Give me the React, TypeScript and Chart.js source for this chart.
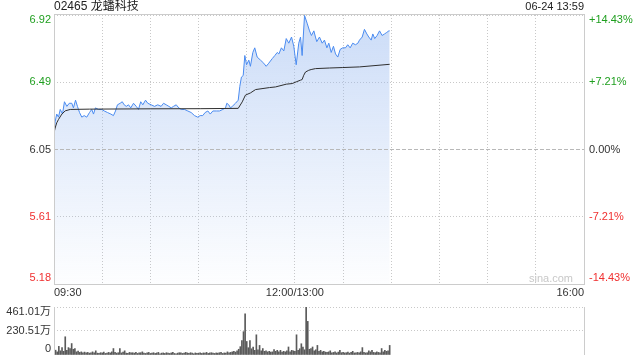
import React, { useEffect, useRef } from "react";
import { Chart, registerables } from "chart.js";

Chart.register(...registerables);

const TITLE = "02465 龙蟠科技";
const DATE_LABEL = "06-24 13:59";
const WATERMARK = "sina.com";
const PREV_CLOSE = 6.05;
const RANGE_PCT = 14.43;
const PCT_TICKS = [14.43, 7.21, 0, -7.21, -14.43];
const PRICE_LABELS = ["6.92", "6.49", "6.05", "5.61", "5.18"];
const PCT_LABELS = ["+14.43%", "+7.21%", "0.00%", "-7.21%", "-14.43%"];
const TIME_LABELS = ["09:30", "12:00/13:00", "16:00"];
const TIME_LABEL_MINUTES = [0, 150, 330];
const SESSION_MINUTES = 330;
const GRID_STEP_MINUTES = 30;

// minutes since 09:30 (lunch break removed) and last price
const priceMinutes = [
  0, 0.7, 1.7, 2.8, 3.9, 5.3, 6.5, 8.0, 9.5, 11.1, 12.1, 13.4, 14.6, 15.9, 17.3, 18.8, 20.4, 22.1, 23.5, 24.6,
  25.8, 27.7, 29.8, 31.3, 33.3, 35.4, 37.0, 38.3, 39.5, 41.2, 42.5, 43.7, 45.0, 46.4, 47.8, 49.5, 51.2, 52.6, 54.0, 55.3,
  57.0, 58.4, 60.5, 62.6, 64.6, 66.7, 68.2, 69.9, 71.5, 73.0, 74.4, 76.1, 77.7, 79.2, 81.3, 83.3, 85.4, 87.5, 89.5, 91.0,
  92.6, 94.1, 95.8, 97.3, 98.9, 101.0, 103.0, 105.1, 106.8, 107.6, 108.8, 109.9, 111.0, 113.0, 114.7, 115.7, 116.7, 117.8, 118.8, 119.9,
  121.3, 122.3, 123.8, 125.0, 126.5, 128.6, 130.6, 132.1, 133.7, 135.9, 137.5, 139.0, 140.0, 141.6, 143.1, 144.6, 146.2, 147.9, 149.3, 150.8,
  152.4, 153.5, 154.5, 156.0, 157.6, 159.1, 160.3, 161.8, 162.8, 163.6, 165.3, 167.0, 168.4, 169.9, 171.1, 172.6, 174.0, 175.3, 176.7, 178.2,
  179.8, 181.5, 182.9, 184.4, 186.0, 187.7, 189.2, 190.2, 191.9, 193.3, 194.8, 196.0, 197.5, 198.5, 199.7, 201.2, 202.7, 204.3, 205.8, 207.2,
  208.5, 209.0,
];
const priceValues = [
  6.16, 6.23, 6.28, 6.26, 6.31, 6.28, 6.36, 6.33, 6.35, 6.35, 6.32, 6.37, 6.33, 6.29, 6.26, 6.27, 6.26, 6.29, 6.31, 6.28,
  6.32, 6.31, 6.31, 6.30, 6.29, 6.28, 6.27, 6.30, 6.34, 6.35, 6.36, 6.34, 6.33, 6.34, 6.32, 6.35, 6.33, 6.31, 6.36, 6.34,
  6.37, 6.35, 6.34, 6.33, 6.34, 6.33, 6.35, 6.34, 6.33, 6.32, 6.33, 6.34, 6.32, 6.31, 6.31, 6.30, 6.29, 6.27, 6.26, 6.27,
  6.27, 6.29, 6.30, 6.28, 6.30, 6.30, 6.30, 6.31, 6.32, 6.35, 6.34, 6.32, 6.33, 6.35, 6.37, 6.46, 6.52, 6.53, 6.66, 6.60,
  6.63, 6.59, 6.68, 6.71, 6.65, 6.63, 6.61, 6.59, 6.61, 6.64, 6.66, 6.68, 6.67, 6.71, 6.69, 6.77, 6.74, 6.78, 6.72, 6.60,
  6.74, 6.78, 6.66, 6.92, 6.87, 6.82, 6.79, 6.82, 6.78, 6.75, 6.78, 6.74, 6.76, 6.71, 6.74, 6.68, 6.72, 6.67, 6.65, 6.70,
  6.71, 6.71, 6.73, 6.71, 6.74, 6.73, 6.74, 6.76, 6.78, 6.83, 6.80, 6.78, 6.76, 6.80, 6.77, 6.79, 6.82, 6.79, 6.80, 6.81,
  6.82, 6.82,
];

// average price line
const avgMinutes = [
  0, 0.7, 1.7, 2.8, 4.9, 7.0, 10.1, 22, 60, 91, 114.7, 117.2, 119.2, 122.3, 125.5, 134.2, 137.9, 144.6, 148.3, 150.8,
  153.5, 154.5, 155.5, 156.6, 158.6, 160.1, 162.8, 171.5, 179.8, 190.2, 209,
];
const avgValues = [
  6.157, 6.189, 6.223, 6.245, 6.28, 6.301, 6.31, 6.312, 6.314, 6.315, 6.317, 6.359, 6.403, 6.417, 6.439, 6.452, 6.456, 6.474, 6.478, 6.489,
  6.5, 6.504, 6.532, 6.553, 6.564, 6.569, 6.575, 6.579, 6.582, 6.586, 6.603,
];

// volume per minute (万), index = minute since 09:30
const volumeValues = [
  62, 46, 30, 83, 40, 71, 35, 175, 46, 71,
  62, 110, 55, 62, 30, 38, 25, 30, 22, 28,
  20, 25, 18, 22, 30, 20, 40, 18, 15, 22,
  20, 28, 15, 18, 25, 20, 30, 62, 25, 18,
  22, 62, 20, 28, 40, 18, 15, 25, 20, 22,
  18, 25, 15, 20, 22, 30, 18, 15, 20, 25,
  15, 18, 22, 15, 20, 25, 12, 18, 20, 15,
  22, 18, 15, 20, 25, 15, 12, 18, 22, 20,
  15, 18, 25, 20, 15, 22, 18, 12, 20, 15,
  18, 22, 15, 20, 18, 25, 15, 20, 22, 18,
  15, 20, 18, 22, 25, 15, 20, 18, 30, 22,
  25, 30, 35, 28, 40, 55, 80, 138, 224, 396,
  130, 70, 138, 60, 77, 45, 194, 50, 92, 40,
  62, 35, 40, 30, 35, 28, 30, 52, 35, 45,
  30, 45, 28, 35, 30, 40, 77, 30, 45, 40,
  35, 194, 45, 60, 108, 77, 50, 461.01, 323, 55,
  62, 77, 40, 50, 92, 35, 45, 30, 35, 28,
  25, 30, 40, 22, 25, 30, 20, 28, 45, 22,
  25, 20, 22, 28, 18, 25, 35, 20, 22, 25,
  20, 30, 71, 25, 20, 22, 40, 30, 45, 25,
  22, 30, 25, 20, 62, 30, 45, 35, 40, 92,
];
const VOLUME_TICKS = [461.01, 230.51, 0];
const VOLUME_LABELS = ["461.01万", "230.51万", "0"];

const FONT = "'Liberation Sans', Arial, 'Noto Sans CJK SC', sans-serif";
const GREEN = "#1f9f1f";
const RED = "#f03030";
const DARK = "#333333";
const GRID = "#c8c8c8";
const FRAME = "#cccccc";

function labelColor(i: number, n: number) {
  const mid = (n - 1) / 2;
  if (i < mid) return GREEN;
  if (i > mid) return RED;
  return DARK;
}

const priceOverlay = {
  id: "priceOverlay",
  afterDraw(chart: any) {
    const { ctx, chartArea: a, scales } = chart;
    const xs = scales.x;
    const ys = scales.y;
    ctx.save();
    // zero line (previous close)
    const y0 = Math.round(ys.getPixelForValue(PREV_CLOSE)) + 0.5;
    ctx.strokeStyle = "#b8b8b8";
    ctx.lineWidth = 1;
    ctx.setLineDash([4, 2]);
    ctx.beginPath();
    ctx.moveTo(a.left, y0);
    ctx.lineTo(a.right, y0);
    ctx.stroke();
    // frame
    ctx.setLineDash([]);
    ctx.strokeStyle = FRAME;
    const L = Math.round(a.left) + 0.5;
    const R = Math.round(a.right) + 0.5;
    const T = Math.round(a.top) - 0.5;
    const B = Math.round(a.bottom) + 0.5;
    ctx.strokeRect(L, T, R - L, B - T);

    // axis labels
    ctx.font = "11px " + FONT;
    ctx.textBaseline = "middle";
    const n = PCT_TICKS.length;
    PCT_TICKS.forEach((p, i) => {
      const v = PREV_CLOSE * (1 + p / 100);
      let y = ys.getPixelForValue(v);
      if (i === 0) y += 5;
      if (i === n - 1) y -= 6;
      ctx.fillStyle = labelColor(i, n);
      ctx.textAlign = "right";
      ctx.fillText(PRICE_LABELS[i], a.left - 3, y);
      ctx.textAlign = "left";
      ctx.fillText(PCT_LABELS[i], a.right + 5, y);
    });

    // time labels
    ctx.fillStyle = DARK;
    TIME_LABELS.forEach((t, i) => {
      const m = TIME_LABEL_MINUTES[i];
      ctx.textAlign = i === 0 ? "left" : i === TIME_LABELS.length - 1 ? "right" : "center";
      ctx.fillText(t, xs.getPixelForValue(m), a.bottom + 9);
    });

    // title and date
    ctx.font = "12px " + FONT;
    ctx.textAlign = "left";
    ctx.fillStyle = "#222";
    ctx.fillText(TITLE, a.left, 7);
    ctx.font = "11px " + FONT;
    ctx.textAlign = "right";
    ctx.fillText(DATE_LABEL, a.right, 7);

    // watermark
    ctx.fillStyle = "#c8c8c8";
    ctx.textAlign = "right";
    ctx.fillText(WATERMARK, a.right - 11, a.bottom - 5);
    ctx.restore();
  },
};

const volumeOverlay = {
  id: "volumeOverlay",
  afterDraw(chart: any) {
    const { ctx, chartArea: a, scales } = chart;
    const ys = scales.y;
    ctx.save();
    ctx.strokeStyle = FRAME;
    ctx.lineWidth = 1;
    const L = Math.round(a.left) + 0.5;
    const R = Math.round(a.right) + 0.5;
    ctx.beginPath();
    ctx.moveTo(L, a.top);
    ctx.lineTo(L, a.bottom);
    ctx.moveTo(R, a.top);
    ctx.lineTo(R, a.bottom);
    ctx.stroke();
    ctx.font = "11px " + FONT;
    ctx.textBaseline = "middle";
    ctx.textAlign = "right";
    ctx.fillStyle = DARK;
    VOLUME_TICKS.forEach((v, i) => {
      let y = ys.getPixelForValue(v);
      if (i === 0) y += 5;
      if (i === VOLUME_TICKS.length - 1) y -= 6;
      ctx.fillText(VOLUME_LABELS[i], a.left - 3, y);
    });
    ctx.restore();
  },
};

export default function App() {
  const priceRef = useRef<HTMLCanvasElement | null>(null);
  const volRef = useRef<HTMLCanvasElement | null>(null);

  useEffect(() => {
    const priceData = priceMinutes.map((m, i) => ({ x: m, y: priceValues[i] }));
    const avgData = avgMinutes.map((m, i) => ({ x: m, y: avgValues[i] }));
    const volData = volumeValues.map((v, i) => ({ x: i, y: v }));

    const yMin = PREV_CLOSE * (1 - RANGE_PCT / 100);
    const yMax = PREV_CLOSE * (1 + RANGE_PCT / 100);

    const priceChart = new Chart(priceRef.current as HTMLCanvasElement, {
      type: "line",
      data: {
        datasets: [
          {
            data: avgData,
            borderColor: "#2f2f2f",
            borderWidth: 1,
            pointRadius: 0,
            fill: false,
            tension: 0,
          },
          {
            data: priceData,
            borderColor: "#4a8bf0",
            borderWidth: 1,
            pointRadius: 0,
            tension: 0,
            fill: "start",
            backgroundColor: (ctx: any) => {
              const area = ctx.chart.chartArea;
              if (!area) return "rgba(200,218,246,0.5)";
              const g = ctx.chart.ctx.createLinearGradient(0, area.top, 0, area.bottom);
              g.addColorStop(0, "rgba(150,184,240,0.5)");
              g.addColorStop(1, "rgba(160,190,240,0.02)");
              return g;
            },
          },
        ],
      },
      options: {
        responsive: false,
        animation: false,
        events: [],
        layout: { padding: { left: 54, right: 56, top: 15, bottom: 76 } },
        plugins: { legend: { display: false }, tooltip: { enabled: false }, title: { display: false } },
        scales: {
          x: {
            type: "linear",
            min: 0,
            max: SESSION_MINUTES,
            ticks: { display: false, stepSize: GRID_STEP_MINUTES },
            grid: { color: GRID, drawTicks: false },
            border: { display: false, dash: [1, 2] },
          },
          y: {
            type: "linear",
            min: yMin,
            max: yMax,
            afterBuildTicks: (scale: any) => {
              scale.ticks = PCT_TICKS.map((p) => ({ value: PREV_CLOSE * (1 + p / 100) }));
            },
            ticks: { display: false },
            grid: {
              drawTicks: false,
              color: (c: any) =>
                c.tick && Math.abs(c.tick.value - PREV_CLOSE) < 1e-6 ? "rgba(0,0,0,0)" : GRID,
            },
            border: { display: false, dash: [1, 2] },
          },
        },
      },
      plugins: [priceOverlay],
    } as any);

    const volChart = new Chart(volRef.current as HTMLCanvasElement, {
      type: "bar",
      data: {
        datasets: [
          {
            data: volData,
            backgroundColor: "#5a5a5a",
            borderWidth: 0,
            barThickness: 1,
            grouped: false,
          },
        ],
      },
      options: {
        responsive: false,
        animation: false,
        events: [],
        layout: { padding: { left: 54, right: 56, top: 307, bottom: 5 } },
        plugins: { legend: { display: false }, tooltip: { enabled: false } },
        scales: {
          x: {
            type: "linear",
            min: 0,
            max: SESSION_MINUTES,
            offset: false,
            ticks: { display: false },
            grid: { display: false, drawTicks: false },
            border: { display: false },
          },
          y: {
            type: "linear",
            min: 0,
            max: VOLUME_TICKS[0],
            afterBuildTicks: (scale: any) => {
              scale.ticks = VOLUME_TICKS.map((v) => ({ value: v }));
            },
            ticks: { display: false },
            grid: {
              drawTicks: false,
              color: (c: any) => (c.tick && c.tick.value === 0 ? "rgba(0,0,0,0)" : GRID),
            },
            border: { display: false, dash: [1, 2] },
          },
        },
      },
      plugins: [volumeOverlay],
    } as any);

    return () => {
      priceChart.destroy();
      volChart.destroy();
    };
  }, []);

  const canvasStyle: React.CSSProperties = { position: "absolute", left: 0, top: 0 };
  return (
    <div style={{ position: "fixed", left: 0, top: 0, width: 640, height: 360, background: "#fff" }}>
      <canvas ref={priceRef} width={640} height={360} style={canvasStyle} />
      <canvas ref={volRef} width={640} height={360} style={canvasStyle} />
    </div>
  );
}
